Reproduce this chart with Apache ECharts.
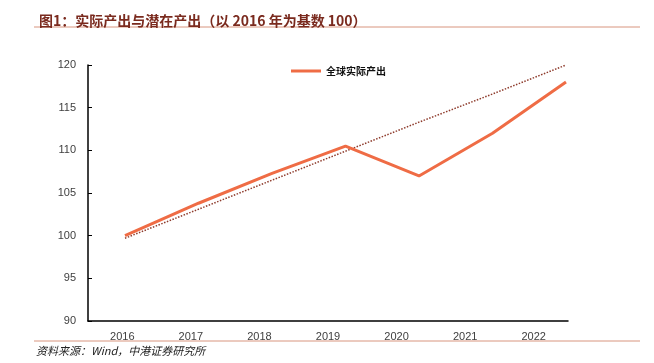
<!DOCTYPE html>
<html><head><meta charset="utf-8">
<script src="https://cdn.jsdelivr.net/npm/echarts@6/dist/echarts.min.js"></script>
<style>html,body{margin:0;padding:0;background:#fff}#c{width:654px;height:363px}</style>
</head><body><div id="c"></div>
<script>
var categories = ['2016','2017','2018','2019','2020','2021','2022'];
var actualOutput = [100.0, 103.8, 107.3, 110.5, 107.0, 112.0, 118.0];
var potentialTrend = [99.7, 103.1, 106.5, 109.9, 113.3, 116.6, 120.0];
var yTicks = {min: 90, max: 120, interval: 5};

var chart = echarts.init(document.getElementById('c'), null, {renderer: 'canvas'});
var axisColor = '#000';
var labelFont = {color: '#404040', fontSize: 11, fontFamily: 'Liberation Sans, Arial, sans-serif'};
chart.setOption({
  animation: false,
  backgroundColor: '#fff',
  title: {
    text: '图1：实际产出与潜在产出（以 2016 年为基数 100）',
    left: 34, top: 9,
    textStyle: {color: '#7A2A1E', fontSize: 14, fontWeight: 'bold', fontFamily: 'Noto Sans CJK SC, sans-serif'}
  },
  graphic: [
    {type: 'line', shape: {x1: 34, y1: 27, x2: 640, y2: 27}, style: {stroke: '#D8957F', lineWidth: 1}},
    {type: 'line', shape: {x1: 34, y1: 341, x2: 640, y2: 341}, style: {stroke: '#D8957F', lineWidth: 1}},
    {type: 'text', left: 36, top: 345, style: {text: '资料来源：Wind，中港证券研究所', fill: '#222', font: 'italic 11px "Noto Sans CJK SC", sans-serif'}}
  ],
  legend: {
    data: ['全球实际产出'], left: 286, top: 61, itemWidth: 30, itemHeight: 3, itemGap: 4,
    icon: 'rect',
    textStyle: {color: '#111', fontSize: 10, fontWeight: 'bold', fontFamily: 'Noto Sans CJK SC, sans-serif'}
  },
  grid: [
    {left: 88, right: 86, top: 65, bottom: 42},
    {left: 125, right: 88, top: 65, bottom: 42}
  ],
  xAxis: [
    {type: 'category', gridIndex: 0, data: categories, boundaryGap: true,
     axisLine: {lineStyle: {color: axisColor, width: 1.5}},
     axisTick: {inside: true, length: 4, lineStyle: {color: axisColor}},
     axisLabel: Object.assign({margin: 10}, labelFont)},
    {type: 'category', gridIndex: 1, data: categories, boundaryGap: false, show: false}
  ],
  yAxis: [
    {type: 'value', gridIndex: 0, min: yTicks.min, max: yTicks.max, interval: yTicks.interval,
     axisLine: {show: true, lineStyle: {color: axisColor, width: 1.5}},
     axisTick: {show: true, inside: true, length: 4, lineStyle: {color: axisColor}},
     splitLine: {show: false},
     axisLabel: Object.assign({margin: 12}, labelFont)},
    {type: 'value', gridIndex: 1, min: yTicks.min, max: yTicks.max, interval: yTicks.interval, show: false, splitLine: {show: false}}
  ],
  series: [
    {name: '潜在产出', type: 'line', xAxisIndex: 1, yAxisIndex: 1, data: potentialTrend,
     symbol: 'none', lineStyle: {color: '#8E3B2C', width: 1.5, type: [1.5, 1.5]}, z: 2},
    {name: '全球实际产出', type: 'line', xAxisIndex: 1, yAxisIndex: 1, data: actualOutput,
     symbol: 'none', itemStyle: {color: '#EF6C45'}, lineStyle: {color: '#EF6C45', width: 3}, z: 3}
  ]
});
</script></body></html>
